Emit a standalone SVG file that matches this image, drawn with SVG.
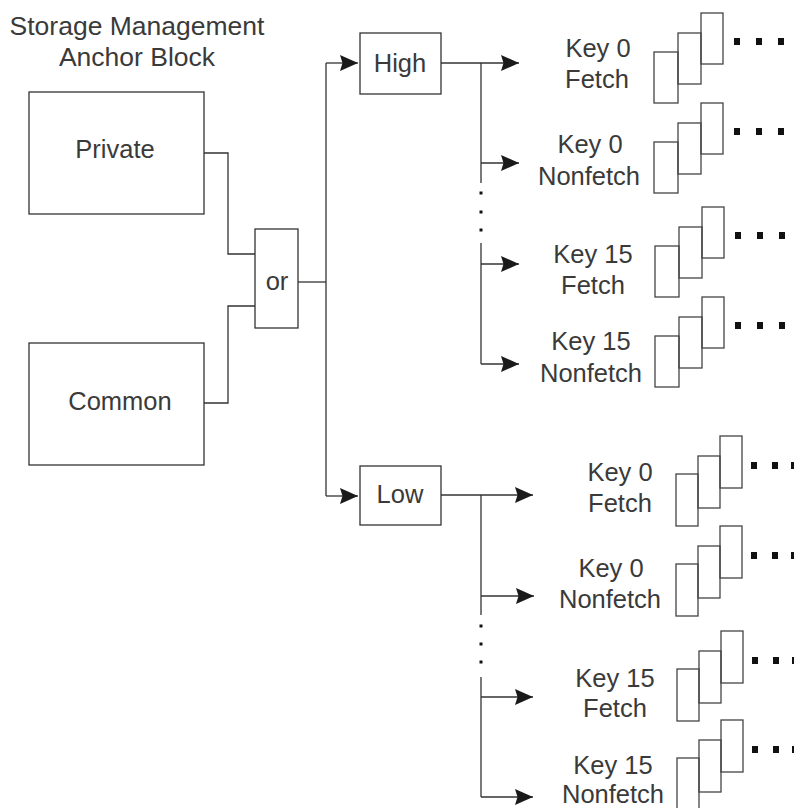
<svg xmlns="http://www.w3.org/2000/svg" xmlns:xlink="http://www.w3.org/1999/xlink" width="794" height="808" viewBox="0 0 794 808">
<style>
  text { font-family: "Liberation Sans", Arial, sans-serif; font-size: 25.5px; fill: #3a3a3a; text-anchor: middle; }
  .title { font-size: 26.5px; }
  .box { fill: #fff; stroke: #333; stroke-width: 1.3; }
  .pg { fill: none; stroke: #444; stroke-width: 1.3; }
  .dot { fill: #111; }
  .conn { fill: none; stroke: #333; stroke-width: 1.3; }
  .arr { marker-end: url(#ah); }
</style>
<defs>
  <marker id="ah" markerUnits="userSpaceOnUse" markerWidth="20" markerHeight="18" refX="18" refY="8" orient="auto">
    <path d="M0,0 L18,8 L0,16 L2.5,8 z" fill="#1a1a1a"/>
  </marker>
  <g id="stackH">
    <rect class="pg" x="0" y="39" width="24" height="51"/>
    <rect class="pg" x="24" y="20" width="23" height="51"/>
    <rect class="pg" x="47" y="0" width="22" height="51"/>
    <rect class="dot" x="80" y="25" width="6" height="7"/>
    <rect class="dot" x="102" y="25" width="6" height="7"/>
    <rect class="dot" x="124" y="25" width="6" height="7"/>
  </g>
  <g id="stackL">
    <rect class="pg" x="0" y="38" width="22" height="52"/>
    <rect class="pg" x="22" y="20" width="22" height="52"/>
    <rect class="pg" x="44" y="0" width="22" height="52"/>
    <rect class="dot" x="75" y="26" width="6" height="7"/>
    <rect class="dot" x="96" y="26" width="6" height="7"/>
    <rect class="dot" x="115" y="26" width="6" height="7"/>
  </g>
</defs>

<g id="title">
  <text class="title" x="137" y="35">Storage Management</text>
  <text class="title" x="137" y="66">Anchor Block</text>
</g>

<g id="private">
  <rect class="box" x="29" y="92" width="175" height="122"/>
  <text x="115" y="158">Private</text>
</g>
<g id="common">
  <rect class="box" x="29" y="343" width="175" height="122"/>
  <text x="120" y="410">Common</text>
</g>
<g id="or">
  <rect class="box" x="255" y="229" width="43" height="99"/>
  <text x="277" y="290">or</text>
</g>
<g id="high">
  <rect class="box" x="360" y="33" width="81" height="61"/>
  <text x="400" y="72">High</text>
</g>
<g id="low">
  <rect class="box" x="360" y="466" width="81" height="59"/>
  <text x="400" y="503">Low</text>
</g>

<g id="high-key0-fetch">
  <text x="598" y="57">Key 0</text>
  <text x="597" y="88">Fetch</text>
  <use xlink:href="#stackH" x="654" y="13"/>
</g>
<g id="high-key0-nonfetch">
  <text x="590" y="153">Key 0</text>
  <text x="589" y="185">Nonfetch</text>
  <use xlink:href="#stackH" x="654" y="103"/>
</g>
<g id="high-key15-fetch">
  <text x="593" y="263">Key 15</text>
  <text x="593" y="294">Fetch</text>
  <use xlink:href="#stackH" x="655" y="207"/>
</g>
<g id="high-key15-nonfetch">
  <text x="591" y="350">Key 15</text>
  <text x="591" y="382">Nonfetch</text>
  <use xlink:href="#stackH" x="655" y="297"/>
</g>

<g id="low-key0-fetch">
  <text x="620" y="481">Key 0</text>
  <text x="620" y="512">Fetch</text>
  <use xlink:href="#stackL" x="676" y="436"/>
</g>
<g id="low-key0-nonfetch">
  <text x="611" y="577">Key 0</text>
  <text x="610" y="608">Nonfetch</text>
  <use xlink:href="#stackL" x="676" y="526"/>
</g>
<g id="low-key15-fetch">
  <text x="615" y="687">Key 15</text>
  <text x="615" y="717">Fetch</text>
  <use xlink:href="#stackL" x="677" y="631"/>
</g>
<g id="low-key15-nonfetch">
  <text x="613" y="774">Key 15</text>
  <text x="613" y="803">Nonfetch</text>
  <use xlink:href="#stackL" x="677" y="720"/>
</g>

<g id="connectors">
  <path class="conn" d="M204,153 H228 V254 H255"/>
  <path class="conn" d="M204,403 H228 V306 H255"/>
  <path class="conn" d="M298,282 H326"/>
  <path class="conn" d="M326,63 V496"/>
  <path class="conn arr" d="M326,63 H358"/>
  <path class="conn arr" d="M326,496 H358"/>

  <path class="conn arr" d="M441,63 H519"/>
  <path class="conn" d="M481,63 V183"/>
  <path class="conn" d="M481,243 V364"/>
  <path class="conn arr" d="M481,163 H519"/>
  <path class="conn arr" d="M481,264 H519"/>
  <path class="conn arr" d="M481,364 H519"/>
  <rect class="dot" x="479.5" y="191.5" width="3" height="3"/>
  <rect class="dot" x="479.5" y="210.5" width="3" height="3"/>
  <rect class="dot" x="479.5" y="228.5" width="3" height="3"/>

  <path class="conn arr" d="M441,495 H533"/>
  <path class="conn" d="M481,495 V615"/>
  <path class="conn" d="M481,677 V797"/>
  <path class="conn arr" d="M481,596 H534"/>
  <path class="conn arr" d="M481,697 H533"/>
  <path class="conn arr" d="M481,797 H533"/>
  <rect class="dot" x="479.5" y="624.5" width="3" height="3"/>
  <rect class="dot" x="479.5" y="642.5" width="3" height="3"/>
  <rect class="dot" x="479.5" y="660.5" width="3" height="3"/>
</g>
</svg>
